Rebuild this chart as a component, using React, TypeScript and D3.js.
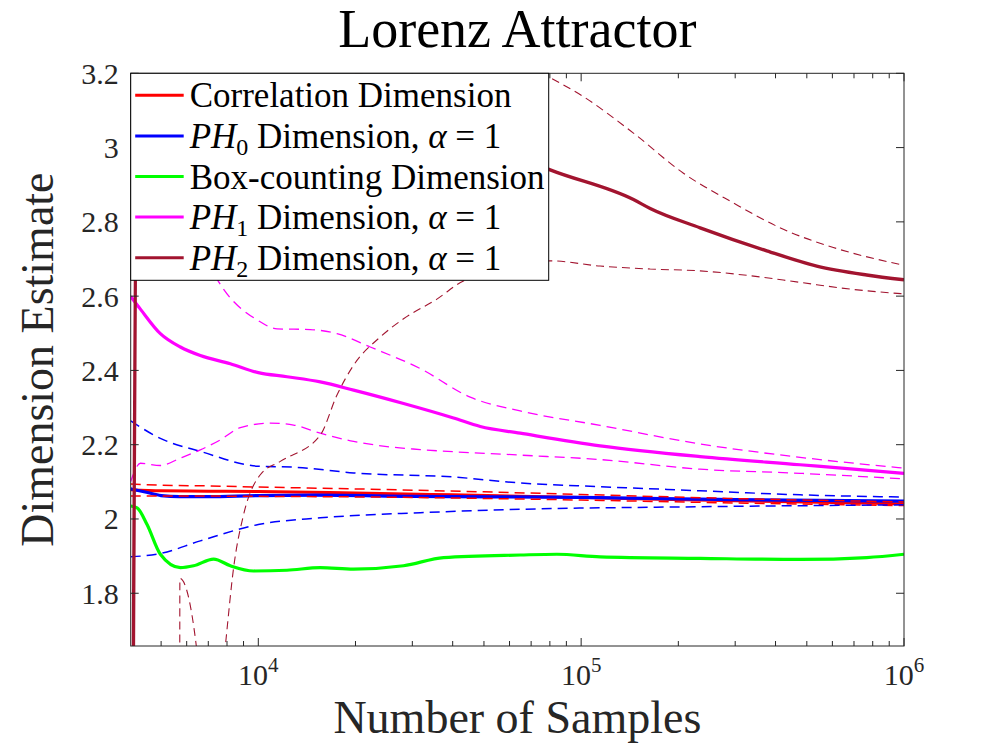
import React from 'react';
import * as d3 from 'd3';

type Pt = [number, number];

// [number of samples, dimension estimate]
const corrMean: Pt[] = [
  [4025, 2.079], [5000, 2.076], [7000, 2.075], [10000, 2.074], [20000, 2.070],
  [40000, 2.065], [100000, 2.058], [300000, 2.049], [1000000, 2.041],
];
const corrUpper: Pt[] = [
  [4025, 2.094], [5000, 2.091], [7000, 2.089], [10000, 2.086], [20000, 2.081],
  [50000, 2.073], [100000, 2.066], [300000, 2.055], [1000000, 2.046],
];
const corrLower: Pt[] = [
  [4025, 2.062], [5000, 2.062], [10000, 2.061], [30000, 2.058], [100000, 2.051],
  [300000, 2.043], [1000000, 2.036],
];

const ph0Mean: Pt[] = [
  [4025, 2.081], [4500, 2.072], [5000, 2.063], [5700, 2.060], [7000, 2.060],
  [10000, 2.063], [15000, 2.064], [30000, 2.061], [100000, 2.058], [300000, 2.052],
  [1000000, 2.048],
];
const ph0Upper: Pt[] = [
  [4025, 2.264], [4973, 2.217], [6613, 2.182], [10000, 2.142], [13180, 2.139],
  [19730, 2.124], [40240, 2.113], [64740, 2.097], [114500, 2.087], [233600, 2.076],
  [476400, 2.065], [1000000, 2.059],
];
const ph0Lower: Pt[] = [
  [4025, 1.898], [4973, 1.907], [6613, 1.941], [10000, 1.985], [15560, 2.003],
  [31730, 2.017], [64740, 2.026], [233600, 2.033], [1000000, 2.038],
];

const boxMean: Pt[] = [
  [4025, 2.035], [4213, 2.030], [4523, 1.985], [4973, 1.905], [5735, 1.869],
  [6305, 1.874], [7271, 1.892], [8192, 1.874], [9670, 1.860], [12270, 1.862],
  [15560, 1.869], [19730, 1.865], [28180, 1.874], [37480, 1.896], [64740, 1.903],
  [84100, 1.905], [114500, 1.898], [233600, 1.894], [476400, 1.891], [766400, 1.896],
  [1000000, 1.905],
];

const ph1Mean: Pt[] = [
  [4025, 2.599], [4313, 2.565], [4973, 2.499], [5735, 2.463], [6613, 2.440],
  [8192, 2.418], [10000, 2.394], [12270, 2.383], [15560, 2.369], [19730, 2.347],
  [28180, 2.311], [40240, 2.272], [48700, 2.249], [64740, 2.231], [114500, 2.197],
  [233600, 2.168], [476400, 2.146], [1000000, 2.123],
];
const ph1Upper: Pt[] = [
  [4025, 3.12], [5000, 2.95], [6300, 2.78], [7451, 2.646], [10000, 2.534],
  [11428, 2.512], [14490, 2.510], [17530, 2.499], [22220, 2.463], [31730, 2.405],
  [45330, 2.328], [64740, 2.291], [114500, 2.252], [233600, 2.202], [476400, 2.166],
  [1000000, 2.137],
];
const ph1Lower: Pt[] = [
  [4025, 2.101], [4313, 2.150], [4973, 2.144], [5735, 2.164], [6613, 2.186],
  [7627, 2.213], [8798, 2.246], [10893, 2.258], [12860, 2.253], [15560, 2.231],
  [19730, 2.209], [25030, 2.195], [31730, 2.187], [64740, 2.172], [114500, 2.160],
  [233600, 2.134], [476400, 2.123], [1000000, 2.108],
];

const ph2Mean: Pt[] = [
  [4080, 1.2], [4250, 3.3], [10000, 3.3], [30000, 3.12], [55000, 3.0],
  [80170, 2.940], [145200, 2.860], [163600, 2.836], [233600, 2.784], [375700, 2.722],
  [536700, 2.681], [766400, 2.657], [1000000, 2.644],
];
const ph2Upper: Pt[] = [
  [4250, 4.5], [20000, 3.6], [50000, 3.3], [76440, 3.199], [101700, 3.137],
  [145200, 3.039], [207400, 2.931], [296100, 2.851], [422900, 2.780], [604000, 2.731],
  [1000000, 2.683],
];
const ph2Lower: Pt[] = [
  [4025, 0.0], [5700, 0.8], [5716, 1.84], [6427, 1.658], [7000, 1.2], [7905, 1.658],
  [8386, 1.869], [9005, 2.012], [10143, 2.119], [11700, 2.155], [15560, 2.226],
  [17530, 2.334], [19730, 2.414], [23860, 2.490], [28180, 2.539], [35750, 2.592],
  [43200, 2.641], [80170, 2.695], [114500, 2.681], [163600, 2.673], [233600, 2.668],
  [333700, 2.655], [476400, 2.637], [680700, 2.619], [1000000, 2.606],
];

const yTicks = [1.8, 2, 2.2, 2.4, 2.6, 2.8, 3, 3.2];
const yTickLabels = ['1.8', '2', '2.2', '2.4', '2.6', '2.8', '3', '3.2'];
const xMajorTicks = [1e4, 1e5, 1e6];
const xTickExponents = ['4', '5', '6'];

const legendNames = ['Correlation', 'PH0', 'Box', 'PH1', 'PH2'];

const RED = '#ff0000';
const BLUE = '#0000ff';
const GREEN = '#00ff00';
const MAGENTA = '#ff00ff';
const DARKRED = '#a2142f';
const AXIS = '#262626';
const FONT = '"Liberation Serif", "DejaVu Serif", serif';

const W = 1000;
const H = 750;
const left = 130.7, right = 904, top = 73.3, bottom = 646;

const x = d3.scaleLog().domain([4025, 1e6]).range([left, right]);
const y = d3.scaleLinear().domain([1.658, 3.2]).range([bottom, top]);

const line = d3.line<Pt>()
  .x(d => x(d[0]))
  .y(d => y(d[1]))
  .curve(d3.curveMonotoneX);

const xMinorTicks = x.ticks().filter(t => !xMajorTicks.includes(t));

// drawing order: means under the bands where they overlap
const traces = [
  { data: corrMean, color: RED, width: 3, dash: null },
  { data: ph0Mean, color: BLUE, width: 3.2, dash: null },
  { data: corrUpper, color: RED, width: 1.5, dash: '10,6' },
  { data: corrLower, color: RED, width: 1.5, dash: '10,6' },
  { data: ph0Upper, color: BLUE, width: 1.5, dash: '10,6' },
  { data: ph0Lower, color: BLUE, width: 1.5, dash: '10,6' },
  { data: boxMean, color: GREEN, width: 3.2, dash: null },
  { data: ph1Upper, color: MAGENTA, width: 1.3, dash: '10,6' },
  { data: ph1Lower, color: MAGENTA, width: 1.3, dash: '10,6' },
  { data: ph1Mean, color: MAGENTA, width: 3.2, dash: null },
  { data: ph2Upper, color: DARKRED, width: 1.1, dash: '8,5' },
  { data: ph2Lower, color: DARKRED, width: 1.1, dash: '8,5' },
  { data: ph2Mean, color: DARKRED, width: 3.4, dash: null },
];

const legendColors = [RED, BLUE, GREEN, MAGENTA, DARKRED];

const LegendLabel = ({ name }: { name: string }) => {
  if (name === 'Correlation') return <tspan>Correlation Dimension</tspan>;
  if (name === 'Box') return <tspan>Box-counting Dimension</tspan>;
  const sub = name.slice(2);
  return (
    <>
      <tspan fontStyle="italic">PH</tspan>
      <tspan fontSize={24} dy={7}>{sub}</tspan>
      <tspan dy={-7}>{' Dimension, '}</tspan>
      <tspan fontStyle="italic">α</tspan>
      <tspan>{' = 1'}</tspan>
    </>
  );
};

export default function App() {
  const legendX = left, legendY = top, legendW = 418, legendH = 207;
  const rowY = (i: number) => legendY + 22 + i * 40.6;

  return (
    <svg width={W} height={H} style={{ position: 'absolute', left: 0, top: 0, background: '#fff' }}
      fontFamily={FONT}>
      <defs>
        <clipPath id="plot-area">
          <rect x={left} y={top} width={right - left} height={bottom - top} />
        </clipPath>
      </defs>
      <rect width={W} height={H} fill="#fff" />

      <text x={(left + right) / 2} y={47} textAnchor="middle" fontSize={54} fill="#000">
        Lorenz Attractor
      </text>

      <g clipPath="url(#plot-area)">
        {traces.map((t, i) => (
          <path key={i} d={line(t.data) || ''} fill="none" stroke={t.color}
            strokeWidth={t.width} strokeDasharray={t.dash || undefined}
            strokeLinejoin="round" />
        ))}
      </g>

      {/* axes box with inward ticks */}
      <g stroke={AXIS} strokeWidth={1} fill="none">
        <rect x={left} y={top} width={right - left} height={bottom - top} />
        {xMajorTicks.map(t => (
          <g key={t}>
            <line x1={x(t)} x2={x(t)} y1={bottom} y2={bottom - 8} />
            <line x1={x(t)} x2={x(t)} y1={top} y2={top + 8} />
          </g>
        ))}
        {xMinorTicks.map(t => (
          <g key={t}>
            <line x1={x(t)} x2={x(t)} y1={bottom} y2={bottom - 5} />
            <line x1={x(t)} x2={x(t)} y1={top} y2={top + 5} />
          </g>
        ))}
        {yTicks.map(t => (
          <g key={t}>
            <line x1={left} x2={left + 8} y1={y(t)} y2={y(t)} />
            <line x1={right} x2={right - 8} y1={y(t)} y2={y(t)} />
          </g>
        ))}
      </g>

      <g fill={AXIS} fontSize={30}>
        {yTicks.map((t, i) => (
          <text key={t} x={left - 12} y={y(t)} dy="0.35em" textAnchor="end">{yTickLabels[i]}</text>
        ))}
        {xMajorTicks.map((t, i) => (
          <text key={t} x={x(t)} y={685} textAnchor="middle">
            10<tspan fontSize={21} dy={-13}>{xTickExponents[i]}</tspan>
          </text>
        ))}
      </g>

      <text x={(left + right) / 2} y={733} textAnchor="middle" fontSize={46} fill={AXIS}>
        Number of Samples
      </text>
      <text transform={`translate(53,${(top + bottom) / 2}) rotate(-90)`} textAnchor="middle"
        fontSize={46} fill={AXIS}>
        Dimension Estimate
      </text>

      {/* legend */}
      <g>
        <rect x={legendX} y={legendY} width={legendW} height={legendH} fill="#fff" stroke="#000" strokeWidth={1} />
        {legendNames.map((n, i) => (
          <g key={n}>
            <line x1={legendX + 4.5} x2={legendX + 53} y1={rowY(i)} y2={rowY(i)}
              stroke={legendColors[i]} strokeWidth={3} />
            <text x={legendX + 59} y={rowY(i)} dy={12} fontSize={35} fill="#000">
              <LegendLabel name={n} />
            </text>
          </g>
        ))}
      </g>
    </svg>
  );
}
